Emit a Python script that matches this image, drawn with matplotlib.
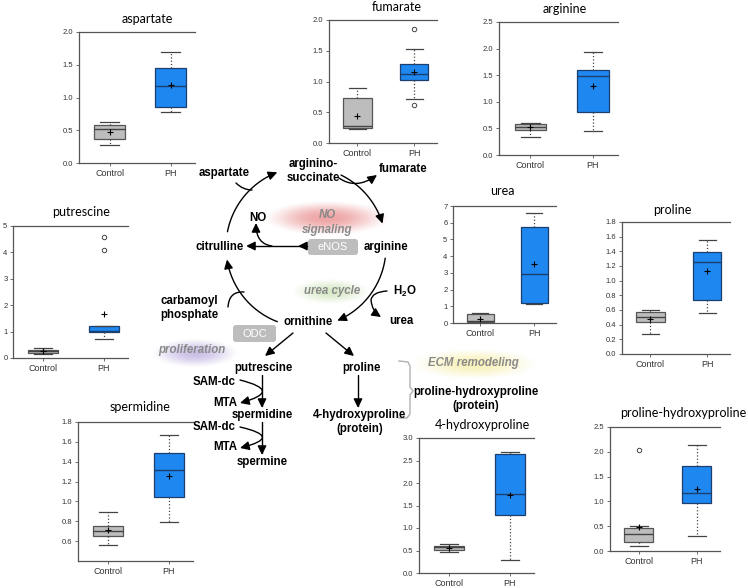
import numpy as np
import matplotlib
matplotlib.use('Agg')
import matplotlib.pyplot as plt
from matplotlib.path import Path
from matplotlib.patches import FancyArrowPatch, FancyBboxPatch

# box plot summaries, order follows `metabolites`
metabolites = ['aspartate', 'fumarate', 'arginine', 'putrescine', 'urea', 'proline',
               'spermidine', '4-hydroxyproline', 'proline-hydroxyproline']
groups = ['Control', 'PH']

ctrl_low = [0.27, 0.22, 0.33, 0.16, 0.02, 0.27, 0.56, 0.47, 0.10]
ctrl_q1 = [0.36, 0.25, 0.47, 0.20, 0.06, 0.43, 0.65, 0.52, 0.18]
ctrl_med = [0.52, 0.28, 0.53, 0.25, 0.12, 0.50, 0.70, 0.57, 0.34]
ctrl_q3 = [0.58, 0.73, 0.58, 0.29, 0.52, 0.57, 0.75, 0.60, 0.46]
ctrl_high = [0.63, 0.90, 0.61, 0.39, 0.58, 0.60, 0.89, 0.65, 0.50]
ctrl_mean = [0.47, 0.44, 0.52, 0.25, 0.26, 0.48, 0.71, 0.55, 0.49]
ctrl_out = [[], [], [], [], [], [], [], [], [2.04]]

ph_low = [0.78, 0.71, 0.46, 0.73, 1.12, 0.56, 0.79, 0.28, 0.30]
ph_q1 = [0.85, 1.02, 0.80, 0.98, 1.22, 0.73, 1.04, 1.28, 0.97]
ph_med = [1.18, 1.13, 1.48, 1.01, 2.92, 1.25, 1.32, 1.75, 1.17]
ph_q3 = [1.45, 1.28, 1.59, 1.20, 5.72, 1.39, 1.49, 2.65, 1.71]
ph_high = [1.69, 1.53, 1.94, 1.20, 6.56, 1.55, 1.67, 2.68, 2.13]
ph_mean = [1.19, 1.16, 1.30, 1.67, 3.52, 1.13, 1.26, 1.73, 1.25]
ph_out = [[], [1.86, 0.61], [], [4.60, 4.10], [], [], [], [], []]

W, H = 748, 588

# panel layout in pixels: left, right, top, bottom, title x, title y, ylim, ticks
panels = [
    (79, 195, 32, 163, 147, 19, (0, 2.0), np.arange(0, 2.01, 0.5), '%.1f'),
    (329, 437, 20, 143, 397, 7, (0, 2.0), np.arange(0, 2.01, 0.5), '%.1f'),
    (499, 618, 22, 155, 565, 9, (0, 2.5), np.arange(0, 2.51, 0.5), '%.1f'),
    (13, 128, 226, 358, 81, 212, (0, 5), np.arange(0, 5.1, 1), '%d'),
    (453, 556, 206, 323, 502, 191, (0, 7), np.arange(0, 7.1, 1), '%d'),
    (622, 730, 222, 354, 672, 210, (0, 1.8), np.arange(0, 1.81, 0.2), '%.1f'),
    (78, 193, 422, 561, 140, 407, (0.4, 1.8), np.arange(0.6, 1.81, 0.2), '%.1f'),
    (419, 534, 438, 573, 482, 425, (0, 3.0), np.arange(0, 3.01, 0.5), '%.1f'),
    (610, 720, 427, 551, 683, 413, (0, 2.5), np.arange(0, 2.51, 0.5), '%.1f'),
]

plt.rcParams['mathtext.fontset'] = 'custom'
plt.rcParams['mathtext.rm'] = 'Liberation Sans'
plt.rcParams['mathtext.bf'] = 'Liberation Sans:bold'

fig = plt.figure(figsize=(W / 100, H / 100), dpi=100)

# overlay in pixel coordinates for the pathway drawing
ov = fig.add_axes([0, 0, 1, 1], zorder=0)
ov.set_xlim(0, W)
ov.set_ylim(H, 0)
ov.axis('off')


def glow(x0, x1, y0, y1, color, alpha):
    u, v = np.meshgrid(np.linspace(-1, 1, 160), np.linspace(-1, 1, 60))
    a = np.clip(1 - (u ** 2 + v ** 2), 0, 1) ** 1.6 * alpha
    rgba = np.zeros((60, 160, 4))
    rgba[..., :3] = matplotlib.colors.to_rgb(color)
    rgba[..., 3] = a
    ov.imshow(rgba, extent=(x0, x1, y1, y0), aspect='auto', interpolation='bilinear', zorder=0)


glow(262, 392, 200, 236, '#e05a5a', 0.55)
glow(290, 372, 278, 305, '#b9d89a', 0.55)
glow(150, 240, 338, 368, '#a894d6', 0.6)
glow(410, 540, 348, 380, '#f6ec9c', 0.7)
ov.set_xlim(0, W)
ov.set_ylim(H, 0)

bold = dict(fontsize=8.3, fontweight='bold', family='Liberation Sans', ha='center', va='center', zorder=3)
ital = dict(fontsize=8.3, fontweight='bold', style='italic', family='Liberation Sans',
            ha='center', va='center', color='#8a8a8a', zorder=3)

for x, y, s in [(224, 173, 'aspartate'), (313, 164, 'arginino-'), (313, 178, 'succinate'),
                (403, 169, 'fumarate'), (258, 218, 'NO'), (220, 247, 'citrulline'),
                (386, 247, 'arginine'), (189, 301, 'carbamoyl'), (189, 315, 'phosphate'),
                (308, 322, 'ornithine'), (401, 321, 'urea'), (263, 368, 'putrescine'),
                (361, 368, 'proline'), (214, 382, 'SAM-dc'), (225, 403, 'MTA'),
                (262, 415, 'spermidine'), (214, 427, 'SAM-dc'), (225, 447, 'MTA'),
                (262, 462, 'spermine'), (360, 415, '4-hydroxyproline'), (360, 429, '(protein)'),
                (476, 392, 'proline-hydroxyproline'), (476, 406, '(protein)')]:
    ov.text(x, y, s, **bold)
ov.text(405, 291, r'$\mathbf{H_2O}$', **bold)

for x, y, s in [(327, 215, 'NO'), (327, 230, 'signaling'), (332, 291, 'urea cycle'),
                (192, 350, 'proliferation'), (473, 363, 'ECM remodeling')]:
    ov.text(x, y, s, **ital)

for x, y, w, h, s in [(308, 239, 50, 16, 'eNOS'), (233, 325, 43, 17, 'ODC')]:
    ov.add_patch(FancyBboxPatch((x, y), w, h, boxstyle='round,pad=0,rounding_size=3',
                                fc='#bdbdbd', ec='none', zorder=2))
    ov.text(x + w / 2, y + h / 2 + 0.5, s, color='white', fontsize=8, family='Liberation Sans',
            ha='center', va='center', zorder=3)


def draw(pts, codes=None, head=True):
    style = '-|>,head_length=0.45,head_width=0.22' if head else '-'
    ov.add_patch(FancyArrowPatch(path=Path(pts, codes), arrowstyle=style, mutation_scale=12,
                                 color='black', lw=1.0, zorder=2))


def curve(p0, c, p1, head=True):
    draw([p0, c, p1], [Path.MOVETO, Path.CURVE3, Path.CURVE3], head)


cx, cy, r = 306, 247, 80
for a0, a1 in [(169, 111), (64, 17), (-8, -67), (-111, -171)]:
    t = np.radians(np.linspace(a0, a1, 40))
    draw(np.column_stack([cx + r * np.cos(t), cy - r * np.sin(t)]))

curve((236, 183), (243, 190), (252, 190), head=False)
curve((339, 178), (356, 190), (377, 175))
curve((272, 246), (256, 244), (256, 223))
draw([(307, 246), (246, 246)])
draw([(307, 246), (298, 246)])
curve((228, 307), (229, 291), (244, 292), head=False)
draw([(387, 291), (372, 292), (371, 300), (372, 311), (381, 317)],
     [Path.MOVETO, Path.CURVE3, Path.CURVE3, Path.CURVE3, Path.CURVE3])
draw([(293, 333), (265, 356)])
draw([(326, 333), (354, 356)])
draw([(262, 375), (262, 408)])
curve((240, 380), (284, 391), (240, 403))
draw([(262, 422), (262, 455)])
curve((240, 427), (284, 437), (240, 448))
draw([(358, 375), (358, 408)])

# light bracket toward proline-hydroxyproline
ov.plot([399, 408, 410, 410, 413, 410, 410, 407, 399],
        [361, 362, 366, 387, 391, 395, 414, 418, 418], color='#b0b0b0', lw=1.0, zorder=1)

for i, name in enumerate(metabolites):
    x0, x1, y0, y1, tx, ty, ylim, ticks, fmt = panels[i]
    ax = fig.add_axes([x0 / W, 1 - y1 / H, (x1 - x0) / W, (y1 - y0) / H], zorder=1)
    ax.patch.set_alpha(0)
    stats = [
        dict(whislo=ctrl_low[i], q1=ctrl_q1[i], med=ctrl_med[i], q3=ctrl_q3[i],
             whishi=ctrl_high[i], mean=ctrl_mean[i], fliers=ctrl_out[i], label=groups[0]),
        dict(whislo=ph_low[i], q1=ph_q1[i], med=ph_med[i], q3=ph_q3[i],
             whishi=ph_high[i], mean=ph_mean[i], fliers=ph_out[i], label=groups[1]),
    ]
    bp = ax.bxp(stats, positions=[1, 2], widths=0.5, capwidths=0.3, showmeans=True,
                patch_artist=True,
                whiskerprops=dict(linestyle=':', lw=0.9, color='#444444'),
                capprops=dict(lw=0.9, color='#444444'),
                meanprops=dict(marker='+', markersize=5, markeredgecolor='black', markeredgewidth=0.8),
                flierprops=dict(marker='o', markersize=3.2, markerfacecolor='none',
                                markeredgecolor='#444444', markeredgewidth=0.7))
    for box, fc, ec in zip(bp['boxes'], ['#bdbdbd', '#1e88f0'], ['#555555', '#1b3f6e']):
        box.set_facecolor(fc)
        box.set_edgecolor(ec)
        box.set_linewidth(0.9)
    for med, ec in zip(bp['medians'], ['#444444', '#1b3f6e']):
        med.set_color(ec)
        med.set_linewidth(1.0)
    ax.set_xlim(0.5, 2.4)
    ax.set_ylim(*ylim)
    ax.set_yticks(ticks)
    ax.set_yticklabels([fmt % v for v in ticks])
    for side in ['left', 'bottom', 'top']:
        ax.spines[side].set_color('#555555')
        ax.spines[side].set_linewidth(0.9)
    ax.spines['right'].set_visible(False)
    ax.tick_params(direction='out', length=2.5, width=0.6, color='#555555', labelcolor='#333333')
    ax.tick_params(axis='y', labelsize=5.5, pad=1.5)
    ax.tick_params(axis='x', labelsize=6.5, pad=2)
    for lab in ax.get_xticklabels() + ax.get_yticklabels():
        lab.set_family('Liberation Sans')
    ov.text(tx, ty, name, fontsize=9, family='Lato', ha='center', va='center', zorder=3)

fig.savefig('out.png', dpi=100)
